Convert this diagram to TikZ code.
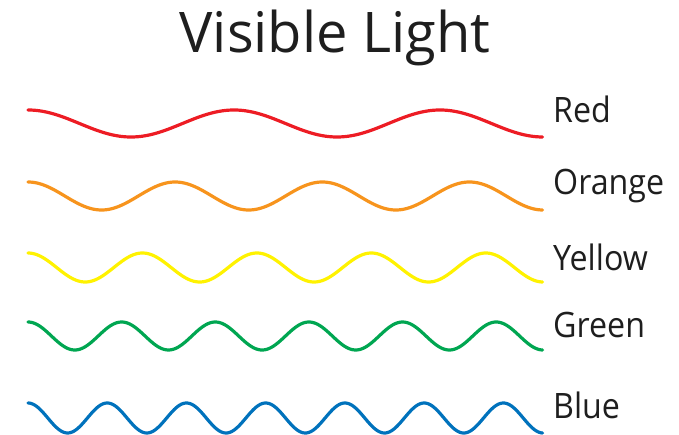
\documentclass[tikz,border=0pt]{standalone}
\usepackage{fontspec}
\setmainfont{Open Sans}
\definecolor{wred}{RGB}{237,28,36}
\definecolor{worange}{RGB}{247,148,29}
\definecolor{wyellow}{RGB}{255,242,0}
\definecolor{wgreen}{RGB}{0,166,81}
\definecolor{wblue}{RGB}{0,114,188}
\definecolor{ink}{RGB}{30,30,30}
\begin{document}
\begin{tikzpicture}[x=1pt,y=-1pt,
  wave/.style={line width=3.2pt,line cap=round,line join=round},
  lbl/.style={anchor=base west,inner sep=0pt,text=ink,font=\fontsize{35}{40}\selectfont,xscale=0.92,transform shape},
  ttl/.style={anchor=base,inner sep=0pt,text=ink,font=\fontsize{56}{60}\selectfont}]
\useasboundingbox (0,0) rectangle (679,435);
\node[ttl] (title) at (335,53) {Visible Light};
\draw[wave,wred]    plot[domain=0:1,samples=300] ({28+515*\x},{123.5-13.5*cos(2.5*360*\x)});
\draw[wave,worange] plot[domain=0:1,samples=300] ({28+515*\x},{196-14*cos(3.5*360*\x)});
\draw[wave,wyellow] plot[domain=0:1,samples=300] ({28+515*\x},{267.5-14.5*cos(4.5*360*\x)});
\draw[wave,wgreen]  plot[domain=0:1,samples=300] ({28+515*\x},{336-14*cos(5.5*360*\x)});
\draw[wave,wblue]   plot[domain=0:1,samples=300] ({28+515*\x},{418-15*cos(6.5*360*\x)});
\node[lbl] (red) at (553,123) {Red};
\node[lbl] (orange) at (553,195) {Orange};
\node[lbl] (yellow) at (553,270) {Yellow};
\node[lbl] (green) at (553,337) {Green};
\node[lbl] (blue) at (553,418) {Blue};
\end{tikzpicture}
\end{document}
